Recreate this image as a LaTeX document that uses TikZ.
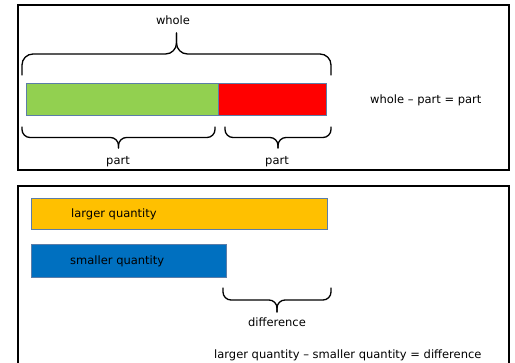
\documentclass[tikz,border=0pt]{standalone}
\usepackage{fontspec}
\setmainfont{DejaVu Sans}
\definecolor{bgreen}{HTML}{92D050}
\definecolor{bred}{HTML}{FF0000}
\definecolor{borange}{HTML}{FFC000}
\definecolor{bblue}{HTML}{0070C0}
\definecolor{bedge}{HTML}{5B7DA8}
\tikzset{
  frame/.style={draw=black, line width=1.4pt},
  bar/.style={draw=bedge, line width=0.7pt, inner sep=0pt, anchor=north west},
  lbl/.style={inner sep=0pt, font=\fontsize{11.5}{13}\selectfont},
  curly/.style={draw=black, line width=1.3pt, line cap=round},
}
% brace: x1, x2, y-end, y-flat, y-tip, radius
\newcommand\hbrace[6]{%
  \draw[curly, rounded corners=#6] (#1,#3) -- (#1,#4) -- ({(#1+#2)/2},#4) -- ({(#1+#2)/2},#5);
  \draw[curly, rounded corners=#6] (#2,#3) -- (#2,#4) -- ({(#1+#2)/2},#4) -- ({(#1+#2)/2},#5);
}
\begin{document}
\begin{tikzpicture}[x=1pt,y=-1pt]
\useasboundingbox (0,0) rectangle (515,363);
\clip (0,0) rectangle (515,363);
% frames
\draw[frame] (18,5) rectangle (509,170);
\draw[frame] (18,186) rectangle (509,380);
% top bars
\node[bar, fill=bgreen, minimum width=192pt, minimum height=32pt] (green) at (26,83) {};
\node[bar, fill=bred, minimum width=108pt, minimum height=32pt] (red) at (218,83) {};
% top brace
\hbrace{22}{331}{75}{54}{33}{11pt}
\node[lbl] (whole) at (173,20) {whole};
% bottom braces
\hbrace{22}{215}{127}{137.5}{148}{8pt}
\hbrace{225}{331}{127}{137.5}{148}{8pt}
\node[lbl] (part1) at (118,162) {part};
\node[lbl] (part2) at (277,162) {part};
\node[lbl, anchor=west] (eq1) at (370,100) {whole – part = part};
% lower panel
\node[bar, fill=borange, minimum width=296pt, minimum height=31pt] (larger) at (31,198) {};
\node[lbl, anchor=west] (ltext) at (71,214) {larger quantity};
\node[bar, fill=bblue, minimum width=195pt, minimum height=33pt] (smaller) at (31,244) {};
\node[lbl, anchor=west] (stext) at (70,261) {smaller quantity};
\hbrace{223}{331}{288}{300}{312}{8pt}
\node[lbl] (diff) at (277,322) {difference};
\node[lbl, anchor=west] (eq2) at (214,355) {larger quantity – smaller quantity = difference};
\end{tikzpicture}
\end{document}
